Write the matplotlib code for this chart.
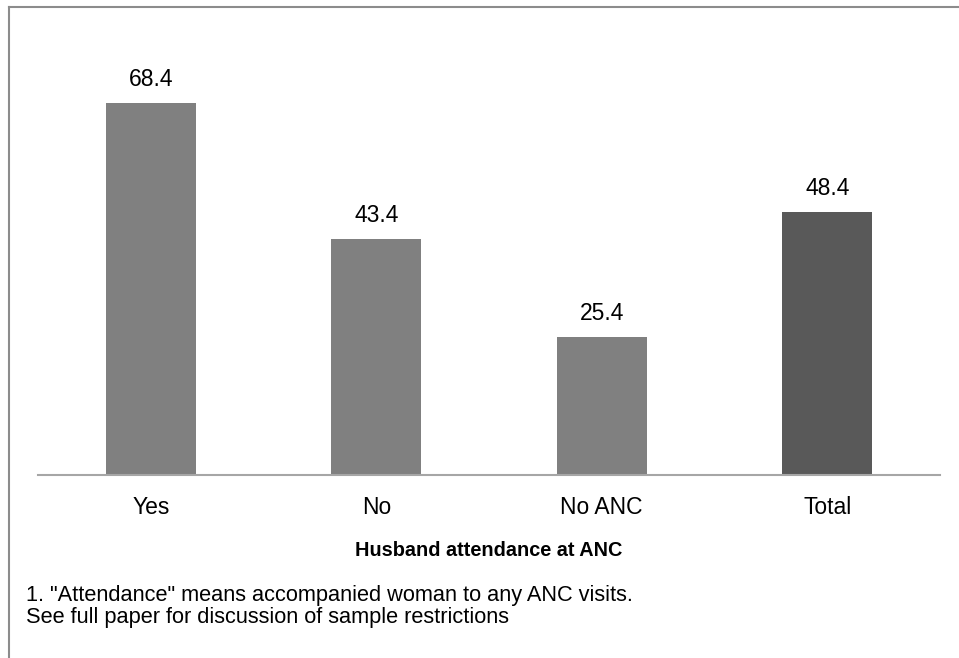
import matplotlib
matplotlib.use("Agg")
from matplotlib import pyplot as plt
from matplotlib.lines import Line2D

plt.rcParams['font.family'] = ['Liberation Sans', 'DejaVu Sans']

# data
categories = ["Yes", "No", "No ANC", "Total"]
values = [68.4, 43.4, 25.4, 48.4]
bar_colors = ["#808080", "#808080", "#808080", "#595959"]
xlabel = "Husband attendance at ANC"
footnote = ['1. "Attendance" means accompanied woman to any ANC visits.',
            'See full paper for discussion of sample restrictions']

W, H = 959, 658
fig = plt.figure(figsize=(W / 100, H / 100), dpi=100)

# plot area in pixels (left, top, right, bottom)
l, t, r, b = 38, 40, 940, 475
ax = fig.add_axes([l / W, 1 - b / H, (r - l) / W, (b - t) / H])

x = range(len(categories))
ax.bar(x, values, width=0.4, color=bar_colors)
for i, v in zip(x, values):
    ax.text(i, v + 2.2, f"{v:.1f}", ha="center", va="bottom", fontsize=16.5)

ax.set_xlim(-0.5, len(categories) - 0.5)
ax.set_ylim(0, 80)
ax.set_yticks([])
ax.set_xticks(list(x))
ax.set_xticklabels(categories, fontsize=16.5)
ax.tick_params(axis="x", length=0, pad=15)
for s in ["top", "right", "left"]:
    ax.spines[s].set_visible(False)
ax.spines["bottom"].set_color("#a6a6a6")
ax.spines["bottom"].set_linewidth(1.5)

fig.text((l + r) / 2 / W, 1 - 550 / H, xlabel, ha="center", va="center",
         fontsize=14.3, fontweight="bold")
fig.text(26 / W, 1 - 595 / H, footnote[0], ha="left", va="center", fontsize=15.7)
fig.text(26 / W, 1 - 618 / H, footnote[1], ha="left", va="center", fontsize=15.7)

# outer frame (only top and left visible in this crop)
fig.add_artist(Line2D([8.5 / W, 8.5 / W], [0, 1 - 7 / H], color="#8c8c8c", lw=1.5,
                      transform=fig.transFigure))
fig.add_artist(Line2D([8.5 / W, 1], [1 - 7 / H, 1 - 7 / H], color="#8c8c8c", lw=1.5,
                      transform=fig.transFigure))

fig.savefig("out.png", dpi=100)
